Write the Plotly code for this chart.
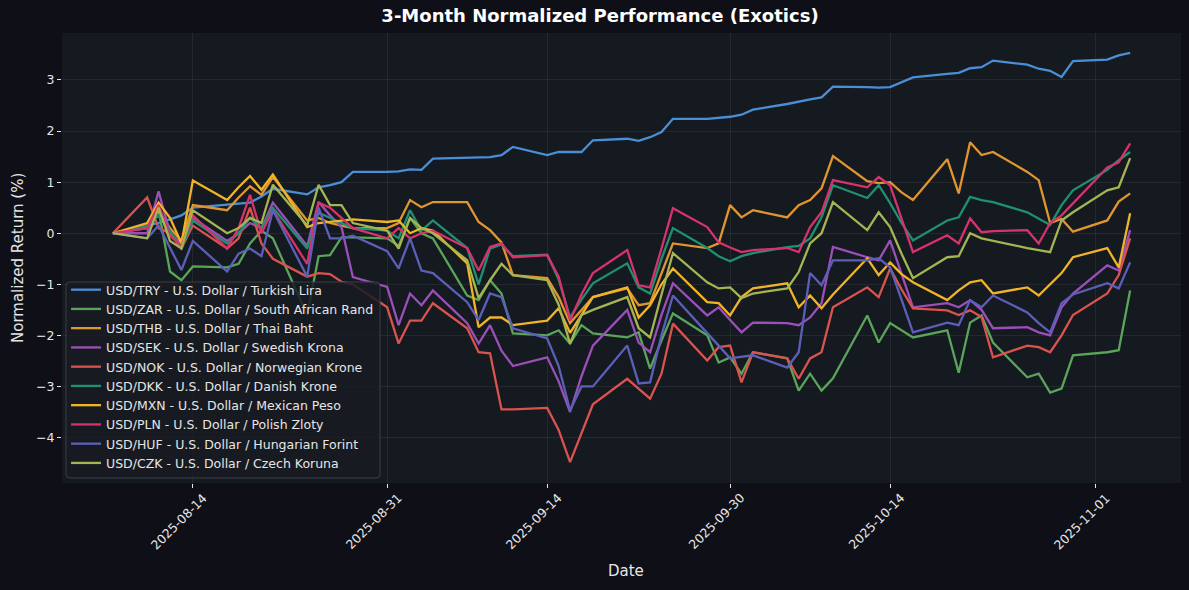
import plotly.graph_objects as go

dates = ["2025-08-07", "2025-08-10", "2025-08-11", "2025-08-12", "2025-08-13", "2025-08-14",
         "2025-08-17", "2025-08-18", "2025-08-19", "2025-08-20", "2025-08-21",
         "2025-08-24", "2025-08-25", "2025-08-26", "2025-08-27", "2025-08-28",
         "2025-08-31", "2025-09-01", "2025-09-02", "2025-09-03", "2025-09-04",
         "2025-09-07", "2025-09-08", "2025-09-09", "2025-09-10", "2025-09-11",
         "2025-09-14", "2025-09-15", "2025-09-16", "2025-09-17", "2025-09-18",
         "2025-09-21", "2025-09-22", "2025-09-23", "2025-09-24", "2025-09-25",
         "2025-09-28", "2025-09-29", "2025-09-30", "2025-10-01", "2025-10-02",
         "2025-10-05", "2025-10-06", "2025-10-07", "2025-10-08", "2025-10-09",
         "2025-10-12", "2025-10-13", "2025-10-14", "2025-10-15", "2025-10-16",
         "2025-10-19", "2025-10-20", "2025-10-21", "2025-10-22", "2025-10-23",
         "2025-10-26", "2025-10-27", "2025-10-28", "2025-10-29", "2025-10-30",
         "2025-11-02", "2025-11-03", "2025-11-04"]

usd_try = [0, 0.15, 0.2, 0.27, 0.35, 0.5, 0.55, 0.58, 0.6, 0.72, 0.87, 0.76, 0.9, 0.94, 1.0, 1.2,
           1.2, 1.21, 1.25, 1.24, 1.46, 1.47, 1.48, 1.49, 1.53, 1.69, 1.53, 1.59, 1.59, 1.59, 1.82,
           1.85, 1.81, 1.88, 1.98, 2.24, 2.24, 2.26, 2.28, 2.32, 2.42, 2.53, 2.58, 2.62, 2.66, 2.87,
           2.86, 2.85, 2.86, 2.95, 3.05, 3.12, 3.14, 3.23, 3.25, 3.38, 3.3, 3.22, 3.18, 3.06, 3.37,
           3.4, 3.48, 3.53]
usd_zar = [0, 0.1, 0.45, -0.75, -0.92, -0.65, -0.67, -0.6, -0.2, 0.05, -0.1, -1.6, -0.45, -0.43, -0.08, -0.08,
           -0.1, -0.25, 0.3, 0.0, -0.1, -1.22, -1.31, -0.92, -1.18, -1.96, -2.0, -1.9, -2.16, -1.8, -1.96,
           -2.04, -1.94, -2.65, -2.1, -1.57, -2.0, -2.53, -2.43, -2.75, -2.33, -2.45, -3.08, -2.75, -3.08, -2.84,
           -1.61, -2.14, -1.76, -1.9, -2.04, -1.9, -2.73, -1.75, -1.61, -2.14, -2.82, -2.75, -3.12, -3.04, -2.39,
           -2.33, -2.29, -1.12]
usd_thb = [0, 0.15, 0.45, 0.1, -0.15, 0.55, 0.45, 0.7, 0.92, 0.75, 1.1, 0.25, 0.3, 0.2, 0.15, 0.1,
           0.1, 0.2, 0.65, 0.51, 0.61, 0.61, 0.22, 0.06, -0.18, -0.82, -0.88, -1.25, -1.76, -1.5, -1.25,
           -1.08, -1.41, -1.37, -0.8, -0.2, -0.29, -0.2, 0.55, 0.31, 0.45, 0.31, 0.55, 0.65, 0.88, 1.51,
           1.02, 0.98, 1.0, 0.8, 0.65, 1.45, 0.78, 1.78, 1.53, 1.59, 1.2, 1.04, 0.2, 0.28, 0.03,
           0.25, 0.62, 0.78]
usd_sek = [0, 0.0, 0.82, 0.0, -0.2, 0.3, -0.15, 0.0, 0.2, 0.1, 0.6, -0.25, 0.61, 0.35, 0.12, -0.86,
           -1.05, -1.8, -1.18, -1.41, -1.12, -1.76, -2.16, -1.8, -2.3, -2.6, -2.43, -2.9, -3.5, -2.8, -2.2,
           -1.5, -2.14, -2.33, -1.6, -0.98, -1.61, -1.45, -1.7, -1.94, -1.75, -1.76, -1.8, -1.65, -1.37, -0.27,
           -0.47, -0.53, -0.14, -0.8, -1.45, -1.37, -1.45, -1.31, -1.5, -1.86, -1.84, -1.94, -2.0, -1.45, -1.18,
           -0.63, -0.73, 0.06]
usd_nok = [0, 0.7, 0.1, 0.0, -0.3, 0.15, -0.3, -0.1, 0.5, -0.2, -0.5, -0.85, -0.78, -0.8, -0.95, -1.0,
           -1.45, -2.16, -1.71, -1.71, -1.37, -1.86, -2.33, -2.35, -3.45, -3.45, -3.42, -3.85, -4.48, -3.9, -3.35,
           -2.85, -3.05, -3.24, -2.75, -1.77, -2.49, -2.23, -2.2, -2.92, -2.33, -2.45, -2.85, -2.45, -2.33, -1.45,
           -1.06, -1.25, -0.69, -1.1, -1.47, -1.51, -1.6, -1.51, -1.64, -2.43, -2.2, -2.23, -2.33, -2.0, -1.6,
           -1.18, -0.82, -0.1]
usd_dkk = [0, 0.15, 0.35, 0.05, -0.3, 0.25, -0.2, 0.0, 0.3, 0.1, 0.5, -0.3, 0.4, 0.3, 0.2, 0.1,
           0.05, -0.1, 0.45, 0.05, 0.25, -0.29, -1.0, -0.3, -0.22, -0.45, -0.42, -0.9, -1.65, -1.3, -0.98,
           -0.59, -1.06, -1.18, -0.5, 0.1, -0.29, -0.45, -0.55, -0.45, -0.39, -0.27, -0.25, -0.1, 0.31, 0.94,
           0.69, 0.94, 0.59, 0.2, -0.14, 0.25, 0.31, 0.71, 0.65, 0.61, 0.41, 0.29, 0.16, 0.55, 0.84,
           1.24, 1.43, 1.59]
usd_mxn = [0, 0.2, 0.6, 0.3, -0.2, 1.03, 0.65, 0.9, 1.12, 0.85, 1.15, 0.12, 0.2, 0.22, 0.25, 0.27,
           0.22, 0.25, 0.0, 0.1, 0.05, -0.59, -1.84, -1.65, -1.65, -1.8, -1.71, -1.47, -1.95, -1.6, -1.25,
           -1.06, -1.65, -1.41, -1.0, -0.69, -1.35, -1.37, -1.61, -1.25, -1.08, -0.98, -1.45, -1.22, -1.47, -1.2,
           -0.49, -0.82, -0.57, -0.8, -0.96, -1.31, -1.12, -0.96, -0.92, -1.18, -1.06, -1.22, -1.0, -0.78, -0.47,
           -0.29, -0.67, 0.39]
usd_pln = [0, 0.1, 0.55, -0.05, -0.25, 0.35, -0.3, 0.1, 0.75, 0.0, 0.45, -0.6, 0.6, 0.5, 0.3, 0.1,
           -0.1, 0.1, -0.1, 0.0, 0.05, -0.29, -0.73, -0.27, -0.2, -0.47, -0.43, -0.85, -1.71, -1.2, -0.78,
           -0.33, -1.02, -1.06, -0.3, 0.49, 0.12, -0.18, -0.28, -0.37, -0.33, -0.29, -0.37, 0.12, 0.41, 1.04,
           0.9, 1.1, 0.94, 0.3, -0.37, -0.04, -0.2, 0.29, 0.02, 0.04, 0.06, -0.2, 0.2, 0.35, 0.59,
           1.29, 1.39, 1.76]
usd_huf = [0, -0.1, 0.15, -0.3, -0.72, -0.15, -0.75, -0.4, -0.3, -0.45, 0.45, -0.85, 0.5, -0.1, -0.1, -0.05,
           -0.35, -0.69, -0.1, -0.73, -0.78, -1.35, -1.7, -1.18, -1.25, -1.86, -2.06, -2.6, -3.47, -3.0, -3.0,
           -2.2, -2.94, -2.92, -2.0, -1.22, -1.94, -2.2, -2.45, -2.42, -2.39, -2.63, -2.33, -0.78, -1.02, -0.53,
           -0.53, -0.49, -0.67, -1.3, -1.94, -1.75, -1.8, -1.31, -1.45, -1.22, -1.55, -1.76, -1.94, -1.37, -1.2,
           -0.98, -1.08, -0.57]
usd_czk = [0, -0.1, 0.5, -0.15, -0.3, 0.45, 0.0, 0.1, 0.3, 0.2, 0.95, 0.15, 0.95, 0.55, 0.55, 0.2,
           0.05, -0.3, 0.3, 0.1, 0.0, -0.53, -1.27, -0.92, -0.6, -0.82, -0.92, -1.4, -2.16, -1.6, -1.5,
           -1.25, -1.86, -2.04, -1.2, -0.39, -0.96, -1.08, -1.06, -1.27, -1.18, -1.08, -0.76, -0.2, 0.0, 0.61,
           0.06, 0.41, 0.12, -0.4, -0.88, -0.47, -0.45, 0.0, -0.1, -0.15, -0.29, -0.33, -0.37, 0.25, 0.41,
           0.84, 0.9, 1.47]

series_names = ["USD/TRY - U.S. Dollar / Turkish Lira",
                "USD/ZAR - U.S. Dollar / South African Rand",
                "USD/THB - U.S. Dollar / Thai Baht",
                "USD/SEK - U.S. Dollar / Swedish Krona",
                "USD/NOK - U.S. Dollar / Norwegian Krone",
                "USD/DKK - U.S. Dollar / Danish Krone",
                "USD/MXN - U.S. Dollar / Mexican Peso",
                "USD/PLN - U.S. Dollar / Polish Zloty",
                "USD/HUF - U.S. Dollar / Hungarian Forint",
                "USD/CZK - U.S. Dollar / Czech Koruna"]
series_values = [usd_try, usd_zar, usd_thb, usd_sek, usd_nok, usd_dkk, usd_mxn, usd_pln, usd_huf, usd_czk]
series_colors = ["#4a8fd6", "#5aa55a", "#e0962e", "#9b4fb8", "#d9534f",
                 "#1f9070", "#f0b429", "#d6336c", "#5c5fb8", "#a5b552"]

x_tick_vals = ["2025-08-14", "2025-08-31", "2025-09-14", "2025-09-30", "2025-10-14", "2025-11-01"]
y_tick_vals = [-4, -3, -2, -1, 0, 1, 2, 3]
y_tick_text = ["\u22124", "\u22123", "\u22122", "\u22121", "0", "1", "2", "3"]

FIG_BG = "#0f0f17"
PLOT_BG = "#151920"
TEXT = "#e6e6e6"
GRID = "rgba(255,255,255,0.07)"
FONT = "DejaVu Sans"

fig = go.Figure()
for name, vals, col in zip(series_names, series_values, series_colors):
    fig.add_trace(go.Scatter(x=dates, y=vals, mode="lines", name=name,
                             line=dict(color=col, width=2.3)))

annotations = []
for tv in x_tick_vals:
    annotations.append(dict(x=tv, y=0, xref="x", yref="paper", text=tv, showarrow=False,
                            textangle=-45, xanchor="center", yanchor="middle",
                            yshift=-38, xshift=-14,
                            font=dict(family=FONT, size=12.5, color=TEXT)))
annotations.append(dict(x=0.5, y=0, xref="paper", yref="paper", text="Date", showarrow=False,
                        xanchor="center", yanchor="middle", yshift=-88, xshift=4,
                        font=dict(family=FONT, size=15, color=TEXT)))
annotations.append(dict(x=0, y=0.5, xref="paper", yref="paper", text="Normalized Return (%)",
                        showarrow=False, textangle=-90, xanchor="center", yanchor="middle",
                        xshift=-44, font=dict(family=FONT, size=15, color=TEXT)))

# legend frame (rounded box) in paper coordinates
PW, PH = 1119.0, 450.0
lx0, lx1 = 4 / PW, 318 / PW
ly0, ly1 = 5 / PH, 201 / PH
rx, ry = 4 / PW, 4 / PH
legend_path = (f"M {lx0 + rx},{ly0} L {lx1 - rx},{ly0} Q {lx1},{ly0} {lx1},{ly0 + ry} "
               f"L {lx1},{ly1 - ry} Q {lx1},{ly1} {lx1 - rx},{ly1} "
               f"L {lx0 + rx},{ly1} Q {lx0},{ly1} {lx0},{ly1 - ry} "
               f"L {lx0},{ly0 + ry} Q {lx0},{ly0} {lx0 + rx},{ly0} Z")
shapes = [dict(type="path", path=legend_path, xref="paper", yref="paper", layer="above",
               fillcolor="rgba(24,27,34,0.85)", line=dict(color="#3a3e47", width=1))]

fig.update_layout(
    width=1189, height=590,
    paper_bgcolor=FIG_BG, plot_bgcolor=PLOT_BG,
    margin=dict(l=62, r=8, t=33, b=107),
    font=dict(family=FONT, color=TEXT, size=12.5),
    title=dict(text="<b>3-Month Normalized Performance (Exotics)</b>", x=600 / 1189,
               xref="container", y=1 - 16 / 590, yref="container",
               xanchor="center", yanchor="middle",
               font=dict(family=FONT, size=18, color="#ffffff")),
    showlegend=True,
    legend=dict(x=0.0036, y=0.011, xanchor="left", yanchor="bottom",
                bgcolor="rgba(0,0,0,0)", borderwidth=0,
                font=dict(family=FONT, size=12.5, color=TEXT), tracegroupgap=0),
    annotations=annotations,
    shapes=shapes,
)
fig.update_xaxes(type="date", range=["2025-08-02 13:12", "2025-11-08 10:48"],
                 tickvals=x_tick_vals, showticklabels=False, ticks="outside", ticklen=4,
                 tickcolor=TEXT, showgrid=True, gridcolor=GRID, zeroline=False,
                 showline=False)
fig.update_yaxes(range=[-4.89, 3.92], tickvals=y_tick_vals, ticktext=y_tick_text,
                 ticks="outside", ticklen=4, tickcolor=TEXT, showgrid=True, gridcolor=GRID,
                 zeroline=False, showline=False,
                 tickfont=dict(family=FONT, size=12.5, color=TEXT))

fig.write_html("out.html", config={"displayModeBar": False},
               post_script="document.body.style.margin='0';")
